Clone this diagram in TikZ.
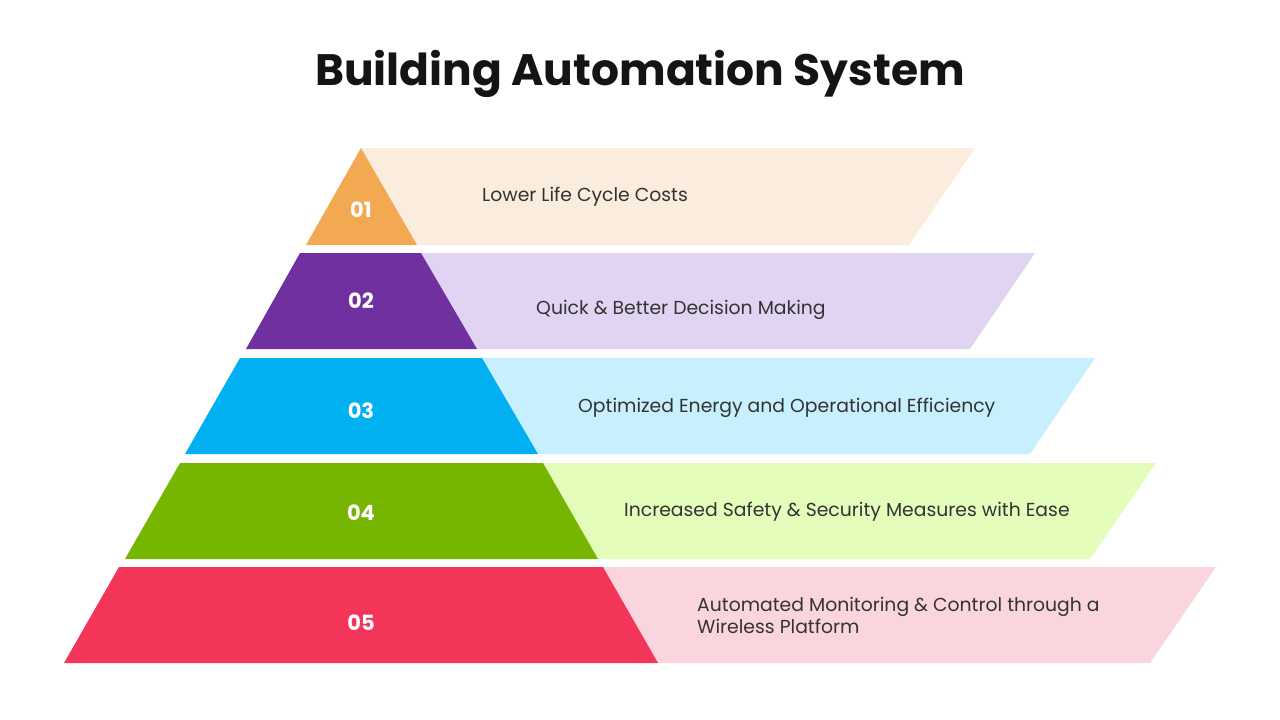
\documentclass[tikz,border=0pt]{standalone}
\usepackage{fontspec}
\setmainfont{Poppins}
\definecolor{oD}{HTML}{F3A952}\definecolor{oL}{HTML}{FBEDDE}
\definecolor{pD}{HTML}{7030A0}\definecolor{pL}{HTML}{E1D3F2}
\definecolor{bD}{HTML}{00B0F0}\definecolor{bL}{HTML}{C8EFFD}
\definecolor{gD}{HTML}{76B600}\definecolor{gL}{HTML}{E5FDBB}
\definecolor{rD}{HTML}{F3355A}\definecolor{rL}{HTML}{FBD5DD}
\definecolor{txt}{HTML}{333333}
\tikzset{
  num/.style={text=white,font=\fontsize{21}{25}\selectfont\bfseries,inner sep=0pt},
  lbl/.style={text=txt,font=\fontsize{18.8}{22}\selectfont,anchor=west,inner sep=0pt,align=left},
}
\begin{document}
\begin{tikzpicture}[x=1pt,y=-1pt]
\useasboundingbox[fill=white] (0,0) rectangle (1280,720);
\node[font=\fontsize{44}{50}\selectfont\bfseries,text=black!92] (title) at (640,74) {Building Automation System};
% row 1
\fill[oL] (361,148) -- (975,148) -- (909,245) -- (417,245) -- cycle;
\fill[oD] (361,148) -- (417,245) -- (306,245) -- cycle;
% row 2
\fill[pL] (421,253) -- (1035,253) -- (970,349) -- (477,349) -- cycle;
\fill[pD] (300,253) -- (421,253) -- (477,349) -- (246,349) -- cycle;
% row 3
\fill[bL] (482,358) -- (1095,358) -- (1030,454) -- (538,454) -- cycle;
\fill[bD] (240,358) -- (482,358) -- (538,454) -- (185,454) -- cycle;
% row 4
\fill[gL] (543,463) -- (1156,463) -- (1090,559) -- (598,559) -- cycle;
\fill[gD] (180,463) -- (543,463) -- (598,559) -- (125,559) -- cycle;
% row 5
\fill[rL] (603,567) -- (1216,567) -- (1150,663) -- (658,663) -- cycle;
\fill[rD] (119,567) -- (603,567) -- (658,663) -- (64,663) -- cycle;
% numbers
\node[num] (n1) at (361,210) {01};
\node[num] (n2) at (361,301) {02};
\node[num] (n3) at (361,411) {03};
\node[num] (n4) at (361,513) {04};
\node[num] (n5) at (361,623) {05};
% labels
\node[lbl] (l1) at (482,197) {Lower Life Cycle Costs};
\node[lbl] (l2) at (536,310) {Quick \& Better Decision Making};
\node[lbl] (l3) at (578,408) {Optimized Energy and Operational Efficiency};
\node[lbl] (l4) at (624,512) {Increased Safety \& Security Measures with Ease};
\node[lbl] (l5) at (697,615) {Automated Monitoring \& Control through a\\Wireless Platform};
\end{tikzpicture}
\end{document}
